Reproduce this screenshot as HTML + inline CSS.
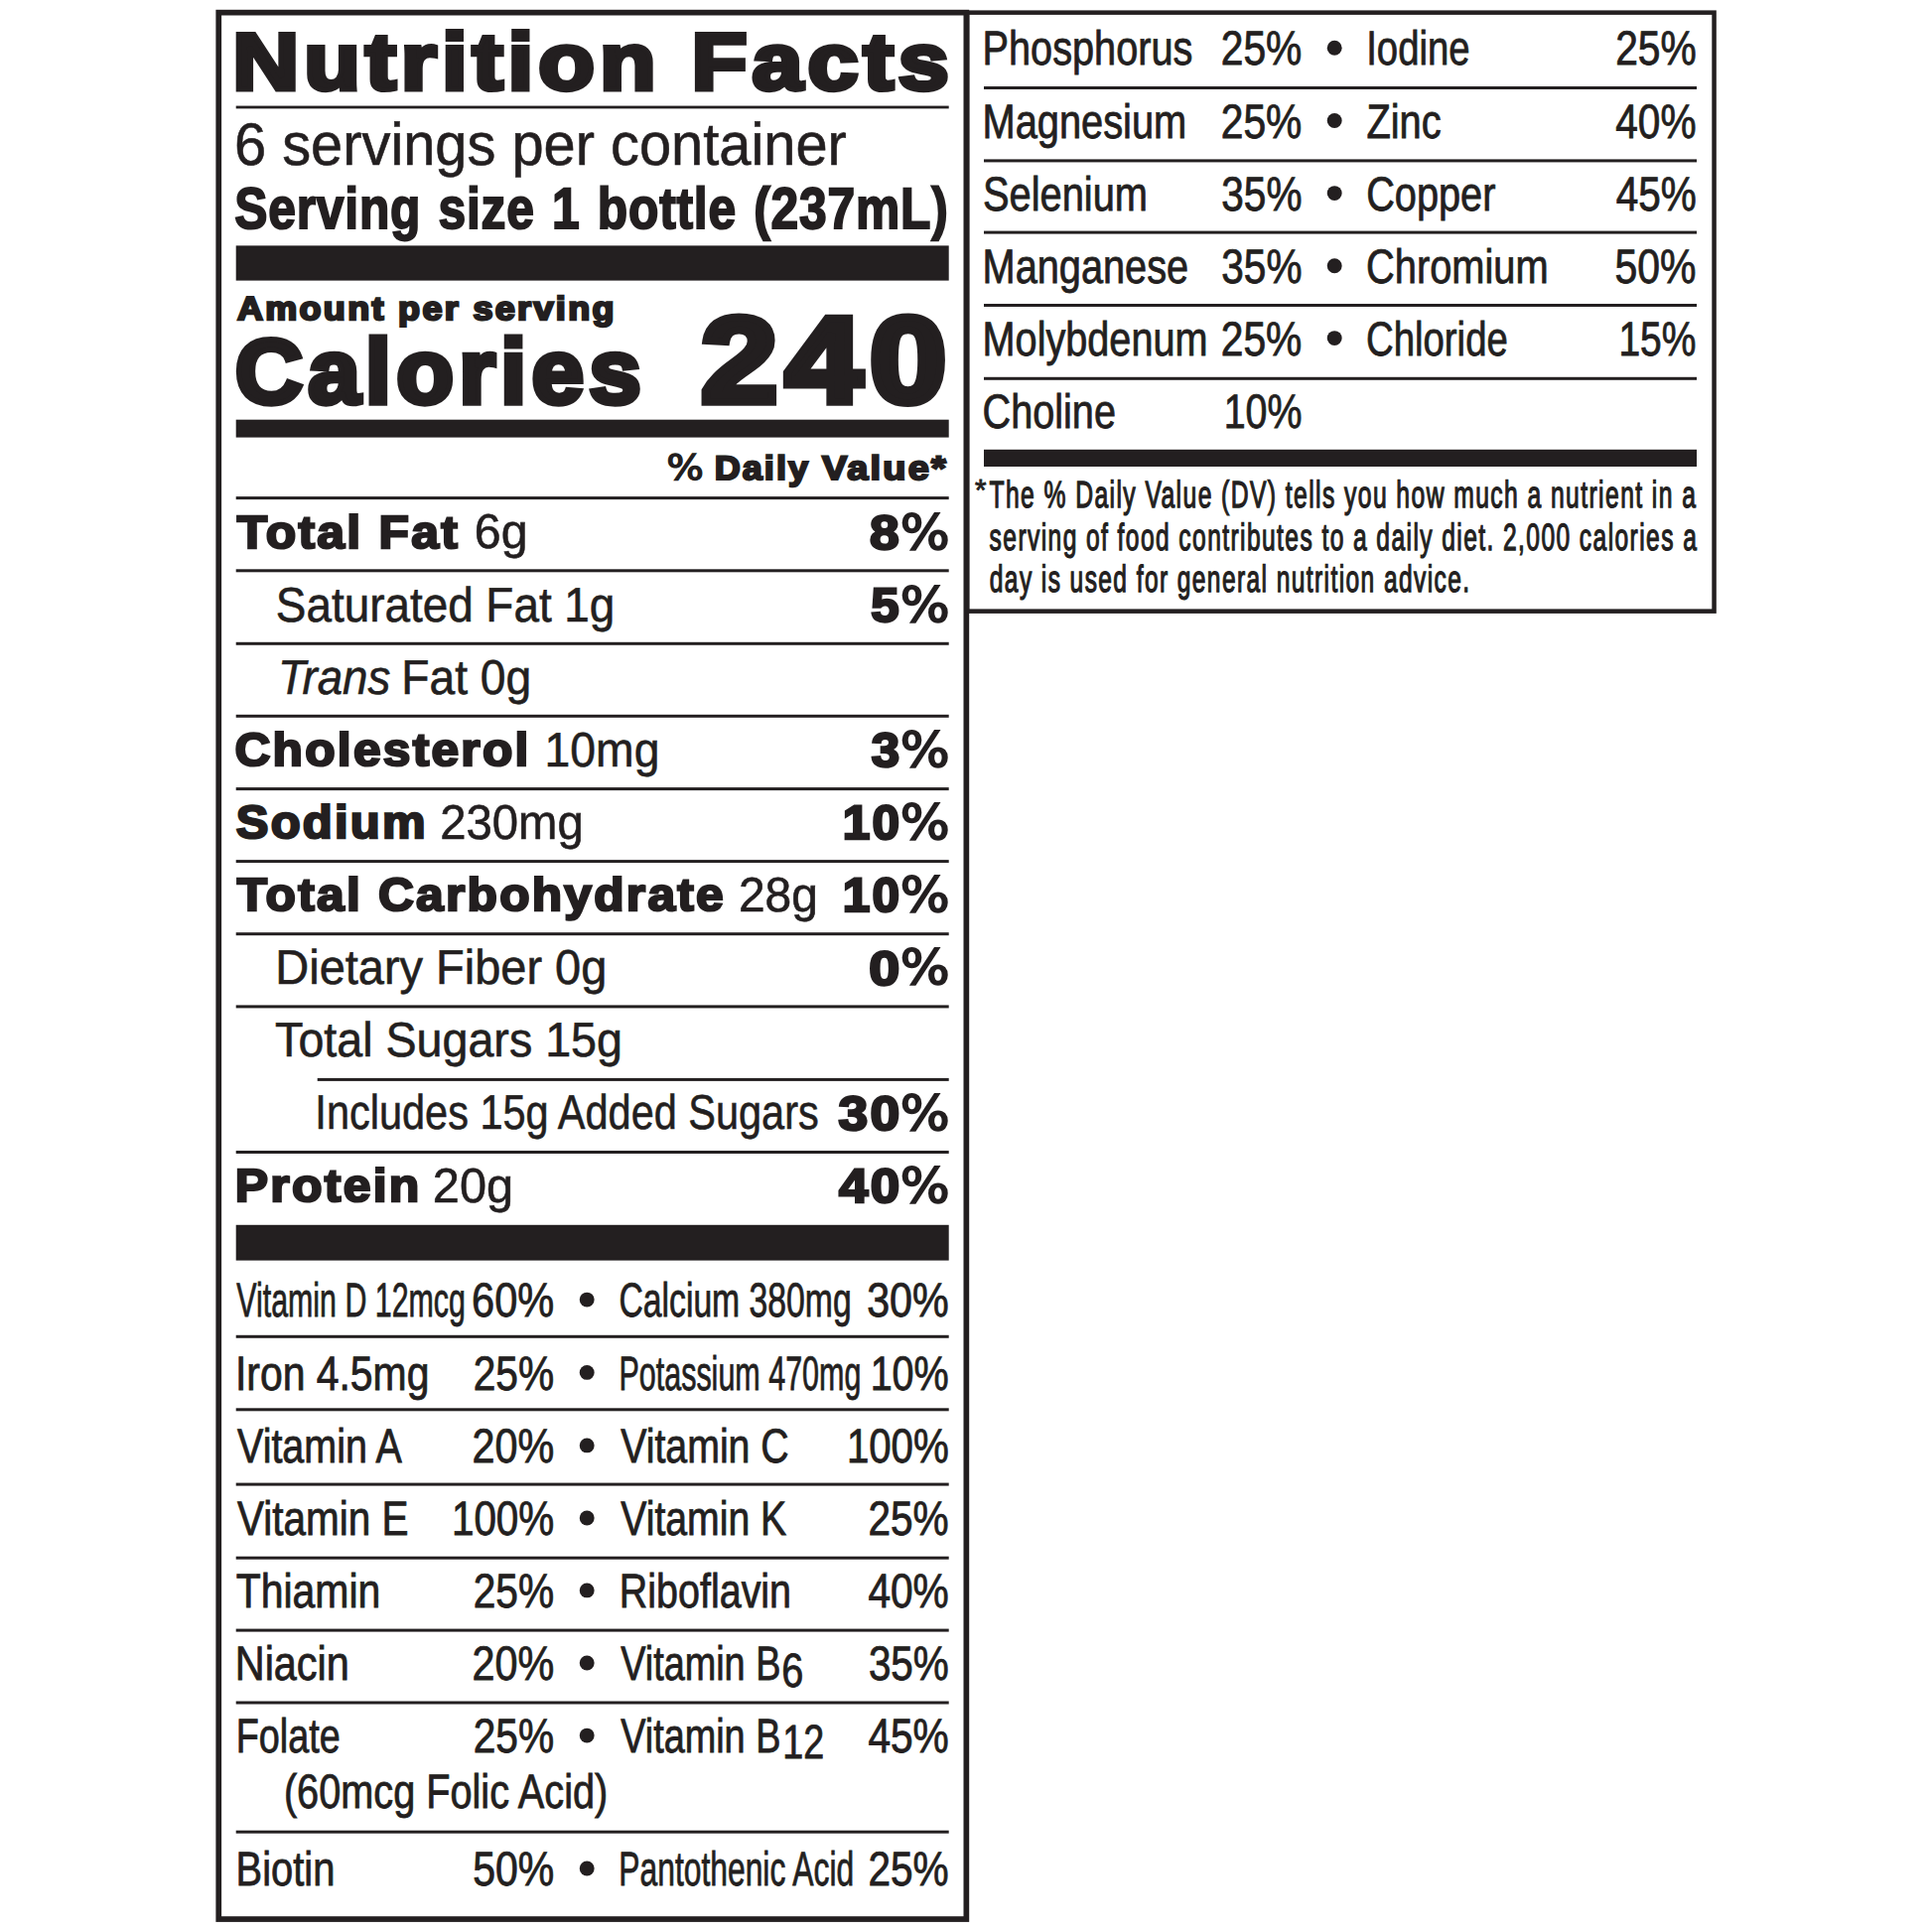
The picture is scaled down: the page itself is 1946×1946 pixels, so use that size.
<!DOCTYPE html>
<html lang="en"><head><meta charset="utf-8"><title>Nutrition Facts</title>
<style>
html,body{margin:0;padding:0;background:#fff;}
#page{position:relative;width:1946px;height:1946px;overflow:hidden;background:#fff;color:#231f20;font-family:"Liberation Sans", sans-serif;}
#page svg{position:absolute;left:0;top:0;}
.panel{display:block;margin:0;padding:0;}
.t{position:absolute;white-space:nowrap;line-height:1;transform-origin:0 0;font-kerning:auto;text-rendering:geometricPrecision;}
.r{font-weight:400;}
.b{font-weight:700;}
.i{font-weight:400;font-style:italic;}
</style></head><body>
<div id="page">
<svg width="1946" height="1946" viewBox="0 0 1946 1946" fill="#231f20">
<rect x="220.25" y="12.65" width="753.10" height="1920.40" fill="none" stroke="#231f20" stroke-width="5.70"/>
<rect x="974.25" y="12.65" width="752.30" height="603.00" fill="none" stroke="#231f20" stroke-width="4.50"/>
<rect x="237.70" y="106.60" width="718.00" height="2.80"/>
<rect x="237.70" y="247.40" width="718.00" height="35.20"/>
<rect x="237.70" y="422.70" width="718.00" height="17.90"/>
<rect x="237.70" y="500.10" width="718.00" height="3.00"/>
<rect x="237.70" y="573.30" width="718.00" height="3.00"/>
<rect x="237.70" y="646.80" width="718.00" height="3.00"/>
<rect x="237.70" y="719.80" width="718.00" height="3.00"/>
<rect x="237.70" y="793.10" width="718.00" height="3.00"/>
<rect x="237.70" y="866.10" width="718.00" height="3.00"/>
<rect x="237.70" y="939.20" width="718.00" height="3.00"/>
<rect x="237.70" y="1012.40" width="718.00" height="3.00"/>
<rect x="319.70" y="1085.90" width="636.00" height="3.00"/>
<rect x="237.70" y="1159.00" width="718.00" height="3.00"/>
<rect x="237.70" y="1233.80" width="718.00" height="35.80"/>
<rect x="237.70" y="1344.80" width="718.00" height="3.00"/>
<rect x="237.70" y="1418.30" width="718.00" height="3.00"/>
<rect x="237.70" y="1493.60" width="718.00" height="3.00"/>
<rect x="237.70" y="1567.70" width="718.00" height="3.00"/>
<rect x="237.70" y="1640.60" width="718.00" height="3.00"/>
<rect x="237.70" y="1713.50" width="718.00" height="3.00"/>
<rect x="237.70" y="1843.70" width="718.00" height="3.00"/>
<circle cx="591.20" cy="1309.10" r="7.45"/>
<circle cx="591.20" cy="1382.40" r="7.45"/>
<circle cx="591.20" cy="1455.90" r="7.45"/>
<circle cx="591.20" cy="1529.00" r="7.45"/>
<circle cx="591.20" cy="1601.90" r="7.45"/>
<circle cx="591.20" cy="1675.00" r="7.45"/>
<circle cx="591.20" cy="1748.10" r="7.45"/>
<circle cx="591.20" cy="1882.00" r="7.45"/>
<rect x="991.00" y="87.00" width="718.00" height="3.00"/>
<rect x="991.00" y="160.40" width="718.00" height="3.00"/>
<rect x="991.00" y="232.60" width="718.00" height="3.00"/>
<rect x="991.00" y="306.00" width="718.00" height="3.00"/>
<rect x="991.00" y="379.80" width="718.00" height="3.00"/>
<rect x="991.00" y="452.80" width="718.00" height="17.20"/>
<circle cx="1344.20" cy="48.20" r="7.45"/>
<circle cx="1344.20" cy="121.50" r="7.45"/>
<circle cx="1344.20" cy="194.60" r="7.45"/>
<circle cx="1344.20" cy="267.70" r="7.45"/>
<circle cx="1344.20" cy="340.60" r="7.45"/>
</svg>
<section class="panel" aria-label="Nutrition Facts">
<span class="t b" style="left:234px;top:22px;font-size:80.77px;transform:translate(0.32px,0.72px) scaleX(1.1486);letter-spacing:4.349px;-webkit-text-stroke:4.83px #231f20;">Nutrition</span>
<span class="t b" style="left:696px;top:22px;font-size:80.77px;transform:translate(0.59px,0.72px) scaleX(1.1354);letter-spacing:4.349px;-webkit-text-stroke:4.83px #231f20;">Facts</span>
<span class="t r" style="left:236px;top:116px;font-size:60.17px;transform:translate(0.00px,0.30px) scaleX(0.9607);-webkit-text-stroke:0.60px #231f20;">6 servings per container</span>
<span class="t b" style="left:236px;top:182px;font-size:58.58px;transform:translate(0.26px,0.22px) scaleX(0.8500);letter-spacing:0.900px;word-spacing:3.182px;-webkit-text-stroke:2.00px #231f20;">Serving size 1 bottle (237mL)</span>
<span class="t b" style="left:238px;top:295px;font-size:33.15px;transform:translate(0.91px,0.48px) scaleX(1.0853);letter-spacing:2.155px;-webkit-text-stroke:2.39px #231f20;">Amount per serving</span>
<span class="t b" style="left:236px;top:329px;font-size:92.00px;transform:translate(0.72px,0.42px) scaleX(1.0285);letter-spacing:4.954px;-webkit-text-stroke:5.50px #231f20;">Calories</span>
<span class="t b" style="left:705px;top:303px;font-size:122.93px;transform:translate(0.98px,0.41px) scaleX(1.1314);letter-spacing:6.811px;-webkit-text-stroke:7.57px #231f20;">240</span>
<span class="t r" style="left:671px;top:453px;font-size:35.19px;transform:translate(0.41px,0.52px) scaleX(1.1140);font-family:'DejaVu Sans','Liberation Sans',sans-serif;-webkit-text-stroke:1.50px #231f20;">%</span>
<span class="t b" style="left:719px;top:455px;font-size:34.05px;transform:translate(0.64px,0.09px) scaleX(1.0579);letter-spacing:1.958px;-webkit-text-stroke:2.18px #231f20;">Daily</span>
<span class="t b" style="left:828px;top:455px;font-size:34.05px;transform:translate(0.01px,0.09px) scaleX(1.1128);letter-spacing:1.958px;-webkit-text-stroke:2.18px #231f20;">Value*</span>
<span class="t b" style="left:238px;top:512px;font-size:46.60px;transform:translate(0.72px,0.52px) scaleX(1.0700);letter-spacing:2.105px;-webkit-text-stroke:2.34px #231f20;">Total Fat</span>
<span class="t r" style="left:477px;top:512px;font-size:48.98px;transform:translate(0.87px,0.18px) scaleX(0.9855);-webkit-text-stroke:0.60px #231f20;">6g</span>
<span class="t b" style="left:875px;top:512px;font-size:48.18px;transform:translate(0.93px,0.51px) scaleX(1.1088);letter-spacing:2.240px;-webkit-text-stroke:2.49px #231f20;">8</span>
<span class="t r" style="left:906px;top:513px;font-size:48.68px;transform:translate(0.76px,0.24px) scaleX(1.0782);font-family:'DejaVu Sans','Liberation Sans',sans-serif;-webkit-text-stroke:1.90px #231f20;">%</span>
<span class="t r" style="left:277px;top:586px;font-size:48.98px;transform:translate(0.81px,0.38px) scaleX(0.9363);-webkit-text-stroke:0.60px #231f20;">Saturated Fat 1g</span>
<span class="t b" style="left:877px;top:586px;font-size:48.18px;transform:translate(0.25px,0.11px) scaleX(1.0581);letter-spacing:2.240px;-webkit-text-stroke:2.49px #231f20;">5</span>
<span class="t r" style="left:906px;top:585px;font-size:48.68px;transform:translate(0.76px,0.84px) scaleX(1.0782);font-family:'DejaVu Sans','Liberation Sans',sans-serif;-webkit-text-stroke:1.90px #231f20;">%</span>
<span class="t i" style="left:279px;top:658px;font-size:48.98px;transform:translate(0.96px,0.78px) scaleX(0.9328);-webkit-text-stroke:0.60px #231f20;">Trans</span>
<span class="t r" style="left:404px;top:658px;font-size:48.98px;transform:translate(0.25px,0.78px) scaleX(0.9436);-webkit-text-stroke:0.60px #231f20;">Fat 0g</span>
<span class="t b" style="left:236px;top:732px;font-size:46.60px;transform:translate(0.47px,0.32px) scaleX(1.0669);letter-spacing:2.105px;-webkit-text-stroke:2.34px #231f20;">Cholesterol</span>
<span class="t r" style="left:548px;top:731px;font-size:48.98px;transform:translate(0.60px,0.58px) scaleX(0.9457);-webkit-text-stroke:0.60px #231f20;">10mg</span>
<span class="t b" style="left:877px;top:732px;font-size:48.18px;transform:translate(0.72px,0.31px) scaleX(1.0601);letter-spacing:2.240px;-webkit-text-stroke:2.49px #231f20;">3</span>
<span class="t r" style="left:906px;top:732px;font-size:48.68px;transform:translate(0.76px,0.04px) scaleX(1.0782);font-family:'DejaVu Sans','Liberation Sans',sans-serif;-webkit-text-stroke:1.90px #231f20;">%</span>
<span class="t b" style="left:237px;top:804px;font-size:46.60px;transform:translate(0.77px,0.92px) scaleX(1.0513);letter-spacing:2.105px;-webkit-text-stroke:2.34px #231f20;">Sodium</span>
<span class="t r" style="left:443px;top:804px;font-size:48.98px;transform:translate(0.26px,0.98px) scaleX(0.9652);-webkit-text-stroke:0.60px #231f20;">230mg</span>
<span class="t b" style="left:848px;top:804px;font-size:48.18px;transform:translate(0.66px,0.91px) scaleX(1.0284);letter-spacing:2.240px;-webkit-text-stroke:2.49px #231f20;">10</span>
<span class="t r" style="left:906px;top:804px;font-size:48.68px;transform:translate(0.76px,0.64px) scaleX(1.0782);font-family:'DejaVu Sans','Liberation Sans',sans-serif;-webkit-text-stroke:1.90px #231f20;">%</span>
<span class="t b" style="left:238px;top:878px;font-size:46.60px;transform:translate(0.71px,0.12px) scaleX(1.0664);letter-spacing:2.105px;-webkit-text-stroke:2.34px #231f20;">Total Carbohydrate</span>
<span class="t r" style="left:743px;top:878px;font-size:48.98px;transform:translate(0.91px,0.38px) scaleX(0.9799);-webkit-text-stroke:0.60px #231f20;">28g</span>
<span class="t b" style="left:848px;top:878px;font-size:48.18px;transform:translate(0.66px,0.11px) scaleX(1.0284);letter-spacing:2.240px;-webkit-text-stroke:2.49px #231f20;">10</span>
<span class="t r" style="left:906px;top:877px;font-size:48.68px;transform:translate(0.76px,0.84px) scaleX(1.0782);font-family:'DejaVu Sans','Liberation Sans',sans-serif;-webkit-text-stroke:1.90px #231f20;">%</span>
<span class="t r" style="left:277px;top:950px;font-size:48.98px;transform:translate(0.34px,0.58px) scaleX(0.9586);-webkit-text-stroke:0.60px #231f20;">Dietary Fiber 0g</span>
<span class="t b" style="left:875px;top:952px;font-size:48.18px;transform:translate(0.17px,0.31px) scaleX(1.1574);letter-spacing:2.240px;-webkit-text-stroke:2.49px #231f20;">0</span>
<span class="t r" style="left:906px;top:951px;font-size:48.68px;transform:translate(0.76px,0.04px) scaleX(1.0782);font-family:'DejaVu Sans','Liberation Sans',sans-serif;-webkit-text-stroke:1.90px #231f20;">%</span>
<span class="t r" style="left:277px;top:1024px;font-size:48.98px;transform:translate(0.08px,0.18px) scaleX(0.9519);-webkit-text-stroke:0.60px #231f20;">Total Sugars 15g</span>
<span class="t r" style="left:317px;top:1097px;font-size:48.98px;transform:translate(0.37px,0.38px) scaleX(0.8471);-webkit-text-stroke:0.60px #231f20;">Includes 15g Added Sugars</span>
<span class="t b" style="left:844px;top:1098px;font-size:48.18px;transform:translate(0.40px,0.11px) scaleX(1.1097);letter-spacing:2.240px;-webkit-text-stroke:2.49px #231f20;">30</span>
<span class="t r" style="left:906px;top:1097px;font-size:48.68px;transform:translate(0.76px,0.84px) scaleX(1.0782);font-family:'DejaVu Sans','Liberation Sans',sans-serif;-webkit-text-stroke:1.90px #231f20;">%</span>
<span class="t b" style="left:236px;top:1170px;font-size:46.60px;transform:translate(0.77px,0.52px) scaleX(1.0718);letter-spacing:2.105px;-webkit-text-stroke:2.34px #231f20;">Protein</span>
<span class="t r" style="left:435px;top:1170px;font-size:48.98px;transform:translate(0.86px,0.78px) scaleX(0.9942);-webkit-text-stroke:0.60px #231f20;">20g</span>
<span class="t b" style="left:844px;top:1170px;font-size:48.18px;transform:translate(0.97px,0.51px) scaleX(1.0983);letter-spacing:2.240px;-webkit-text-stroke:2.49px #231f20;">40</span>
<span class="t r" style="left:906px;top:1171px;font-size:48.68px;transform:translate(0.76px,0.24px) scaleX(1.0782);font-family:'DejaVu Sans','Liberation Sans',sans-serif;-webkit-text-stroke:1.90px #231f20;">%</span>
<span class="t r" style="left:238px;top:1286px;font-size:48.47px;transform:translate(0.33px,0.44px) scaleX(0.6262);-webkit-text-stroke:0.85px #231f20;">Vitamin D 12mcg</span>
<span class="t r" style="left:475px;top:1286px;font-size:48.47px;transform:translate(0.07px,0.44px) scaleX(0.8568);-webkit-text-stroke:0.85px #231f20;">60%</span>
<span class="t r" style="left:236px;top:1360px;font-size:48.47px;transform:translate(0.90px,0.04px) scaleX(0.8439);-webkit-text-stroke:0.85px #231f20;">Iron 4.5mg</span>
<span class="t r" style="left:476px;top:1360px;font-size:48.47px;transform:translate(0.75px,0.04px) scaleX(0.8393);-webkit-text-stroke:0.85px #231f20;">25%</span>
<span class="t r" style="left:239px;top:1433px;font-size:48.47px;transform:translate(0.04px,0.04px) scaleX(0.8137);-webkit-text-stroke:0.85px #231f20;">Vitamin A</span>
<span class="t r" style="left:475px;top:1433px;font-size:48.47px;transform:translate(0.59px,0.04px) scaleX(0.8521);-webkit-text-stroke:0.85px #231f20;">20%</span>
<span class="t r" style="left:239px;top:1506px;font-size:48.47px;transform:translate(0.06px,0.24px) scaleX(0.8349);-webkit-text-stroke:0.85px #231f20;">Vitamin E</span>
<span class="t r" style="left:454px;top:1506px;font-size:48.47px;transform:translate(0.93px,0.24px) scaleX(0.8335);-webkit-text-stroke:0.85px #231f20;">100%</span>
<span class="t r" style="left:237px;top:1579px;font-size:48.47px;transform:translate(0.68px,0.04px) scaleX(0.8452);-webkit-text-stroke:0.85px #231f20;">Thiamin</span>
<span class="t r" style="left:476px;top:1579px;font-size:48.47px;transform:translate(0.75px,0.04px) scaleX(0.8393);-webkit-text-stroke:0.85px #231f20;">25%</span>
<span class="t r" style="left:236px;top:1652px;font-size:48.47px;transform:translate(0.74px,0.24px) scaleX(0.8541);-webkit-text-stroke:0.85px #231f20;">Niacin</span>
<span class="t r" style="left:475px;top:1652px;font-size:48.47px;transform:translate(0.59px,0.24px) scaleX(0.8521);-webkit-text-stroke:0.85px #231f20;">20%</span>
<span class="t r" style="left:237px;top:1725px;font-size:48.47px;transform:translate(0.73px,0.44px) scaleX(0.7795);-webkit-text-stroke:0.85px #231f20;">Folate</span>
<span class="t r" style="left:476px;top:1725px;font-size:48.47px;transform:translate(0.75px,0.44px) scaleX(0.8393);-webkit-text-stroke:0.85px #231f20;">25%</span>
<span class="t r" style="left:285px;top:1781px;font-size:48.47px;transform:translate(0.91px,0.04px) scaleX(0.8186);-webkit-text-stroke:0.85px #231f20;">(60mcg Folic Acid)</span>
<span class="t r" style="left:237px;top:1859px;font-size:48.47px;transform:translate(0.57px,0.24px) scaleX(0.8228);-webkit-text-stroke:0.85px #231f20;">Biotin</span>
<span class="t r" style="left:476px;top:1859px;font-size:48.47px;transform:translate(0.17px,0.24px) scaleX(0.8456);-webkit-text-stroke:0.85px #231f20;">50%</span>
<span class="t r" style="left:623px;top:1286px;font-size:48.47px;transform:translate(0.45px,0.44px) scaleX(0.6955);-webkit-text-stroke:0.85px #231f20;">Calcium 380mg</span>
<span class="t r" style="left:873px;top:1286px;font-size:48.47px;transform:translate(0.18px,0.44px) scaleX(0.8509);-webkit-text-stroke:0.85px #231f20;">30%</span>
<span class="t r" style="left:623px;top:1360px;font-size:48.47px;transform:translate(0.48px,0.04px) scaleX(0.6286);-webkit-text-stroke:0.85px #231f20;">Potassium 470mg</span>
<span class="t r" style="left:876px;top:1360px;font-size:48.47px;transform:translate(0.64px,0.04px) scaleX(0.8155);-webkit-text-stroke:0.85px #231f20;">10%</span>
<span class="t r" style="left:625px;top:1433px;font-size:48.47px;transform:translate(0.24px,0.04px) scaleX(0.8101);-webkit-text-stroke:0.85px #231f20;">Vitamin C</span>
<span class="t r" style="left:852px;top:1433px;font-size:48.47px;transform:translate(0.88px,0.04px) scaleX(0.8299);-webkit-text-stroke:0.85px #231f20;">100%</span>
<span class="t r" style="left:625px;top:1506px;font-size:48.47px;transform:translate(0.24px,0.24px) scaleX(0.8085);-webkit-text-stroke:0.85px #231f20;">Vitamin K</span>
<span class="t r" style="left:874px;top:1506px;font-size:48.47px;transform:translate(0.47px,0.24px) scaleX(0.8365);-webkit-text-stroke:0.85px #231f20;">25%</span>
<span class="t r" style="left:623px;top:1579px;font-size:48.47px;transform:translate(0.84px,0.04px) scaleX(0.8139);-webkit-text-stroke:0.85px #231f20;">Riboflavin</span>
<span class="t r" style="left:874px;top:1579px;font-size:48.47px;transform:translate(0.41px,0.04px) scaleX(0.8385);-webkit-text-stroke:0.85px #231f20;">40%</span>
<span class="t r" style="left:625px;top:1652px;font-size:48.47px;transform:translate(0.23px,0.24px) scaleX(0.7802);-webkit-text-stroke:0.85px #231f20;">Vitamin B</span>
<span class="t r" style="left:787px;top:1659px;font-size:48.18px;transform:translate(0.14px,0.09px) scaleX(0.8232);-webkit-text-stroke:0.85px #231f20;">6</span>
<span class="t r" style="left:874px;top:1652px;font-size:48.47px;transform:translate(0.88px,0.24px) scaleX(0.8340);-webkit-text-stroke:0.85px #231f20;">35%</span>
<span class="t r" style="left:625px;top:1725px;font-size:48.47px;transform:translate(0.23px,0.44px) scaleX(0.7802);-webkit-text-stroke:0.85px #231f20;">Vitamin B</span>
<span class="t r" style="left:788px;top:1731px;font-size:48.18px;transform:translate(0.19px,0.49px) scaleX(0.7823);-webkit-text-stroke:0.85px #231f20;">12</span>
<span class="t r" style="left:874px;top:1725px;font-size:48.47px;transform:translate(0.41px,0.44px) scaleX(0.8385);-webkit-text-stroke:0.85px #231f20;">45%</span>
<span class="t r" style="left:623px;top:1859px;font-size:48.47px;transform:translate(0.37px,0.24px) scaleX(0.6559);-webkit-text-stroke:0.85px #231f20;">Pantothenic Acid</span>
<span class="t r" style="left:874px;top:1859px;font-size:48.47px;transform:translate(0.47px,0.24px) scaleX(0.8365);-webkit-text-stroke:0.85px #231f20;">25%</span>
</section>
<section class="panel" aria-label="Additional nutrients and footnote">
<span class="t r" style="left:989px;top:24px;font-size:48.47px;transform:translate(0.57px,0.64px) scaleX(0.8187);-webkit-text-stroke:0.85px #231f20;">Phosphorus</span>
<span class="t r" style="left:1229px;top:24px;font-size:48.47px;transform:translate(0.81px,0.64px) scaleX(0.8404);-webkit-text-stroke:0.85px #231f20;">25%</span>
<span class="t r" style="left:1376px;top:24px;font-size:48.47px;transform:translate(0.22px,0.64px) scaleX(0.7902);-webkit-text-stroke:0.85px #231f20;">Iodine</span>
<span class="t r" style="left:1627px;top:24px;font-size:48.47px;transform:translate(0.24px,0.64px) scaleX(0.8397);-webkit-text-stroke:0.85px #231f20;">25%</span>
<span class="t r" style="left:989px;top:99px;font-size:48.47px;transform:translate(0.53px,0.24px) scaleX(0.8209);-webkit-text-stroke:0.85px #231f20;">Magnesium</span>
<span class="t r" style="left:1229px;top:99px;font-size:48.47px;transform:translate(0.81px,0.24px) scaleX(0.8404);-webkit-text-stroke:0.85px #231f20;">25%</span>
<span class="t r" style="left:1376px;top:99px;font-size:48.47px;transform:translate(0.41px,0.24px) scaleX(0.8212);-webkit-text-stroke:0.85px #231f20;">Zinc</span>
<span class="t r" style="left:1627px;top:99px;font-size:48.47px;transform:translate(0.25px,0.24px) scaleX(0.8371);-webkit-text-stroke:0.85px #231f20;">40%</span>
<span class="t r" style="left:990px;top:172px;font-size:48.47px;transform:translate(0.01px,0.44px) scaleX(0.8212);-webkit-text-stroke:0.85px #231f20;">Selenium</span>
<span class="t r" style="left:1230px;top:172px;font-size:48.47px;transform:translate(0.33px,0.44px) scaleX(0.8357);-webkit-text-stroke:0.85px #231f20;">35%</span>
<span class="t r" style="left:1376px;top:172px;font-size:48.47px;transform:translate(0.13px,0.44px) scaleX(0.8198);-webkit-text-stroke:0.85px #231f20;">Copper</span>
<span class="t r" style="left:1627px;top:172px;font-size:48.47px;transform:translate(0.75px,0.44px) scaleX(0.8346);-webkit-text-stroke:0.85px #231f20;">45%</span>
<span class="t r" style="left:989px;top:244px;font-size:48.47px;transform:translate(0.56px,0.64px) scaleX(0.8193);-webkit-text-stroke:0.85px #231f20;">Manganese</span>
<span class="t r" style="left:1230px;top:244px;font-size:48.47px;transform:translate(0.33px,0.64px) scaleX(0.8357);-webkit-text-stroke:0.85px #231f20;">35%</span>
<span class="t r" style="left:1376px;top:244px;font-size:48.47px;transform:translate(0.12px,0.64px) scaleX(0.8209);-webkit-text-stroke:0.85px #231f20;">Chromium</span>
<span class="t r" style="left:1626px;top:244px;font-size:48.47px;transform:translate(0.51px,0.64px) scaleX(0.8444);-webkit-text-stroke:0.85px #231f20;">50%</span>
<span class="t r" style="left:989px;top:318px;font-size:48.47px;transform:translate(0.59px,0.44px) scaleX(0.8176);-webkit-text-stroke:0.85px #231f20;">Molybdenum</span>
<span class="t r" style="left:1229px;top:318px;font-size:48.47px;transform:translate(0.81px,0.44px) scaleX(0.8404);-webkit-text-stroke:0.85px #231f20;">25%</span>
<span class="t r" style="left:1375px;top:318px;font-size:48.47px;transform:translate(0.93px,0.44px) scaleX(0.7915);-webkit-text-stroke:0.85px #231f20;">Chloride</span>
<span class="t r" style="left:1630px;top:318px;font-size:48.47px;transform:translate(0.38px,0.44px) scaleX(0.8035);-webkit-text-stroke:0.85px #231f20;">15%</span>
<span class="t r" style="left:989px;top:391px;font-size:48.47px;transform:translate(0.62px,0.24px) scaleX(0.8170);-webkit-text-stroke:0.85px #231f20;">Choline</span>
<span class="t r" style="left:1232px;top:391px;font-size:48.47px;transform:translate(0.71px,0.24px) scaleX(0.8114);-webkit-text-stroke:0.85px #231f20;">10%</span>
<span class="t r" style="left:981px;top:479px;font-size:30.48px;transform:translate(0.99px,0.32px) scaleX(0.9694);-webkit-text-stroke:0.90px #231f20;">*</span>
<span class="t r" style="left:996px;top:480px;font-size:37.94px;transform:translate(0.48px,0.89px) scaleX(0.6502);letter-spacing:2.200px;-webkit-text-stroke:1.30px #231f20;">The % Daily Value (DV) tells you how much a nutrient in a</span>
<span class="t r" style="left:996px;top:524px;font-size:37.94px;transform:translate(0.60px,0.49px) scaleX(0.6477);letter-spacing:2.200px;-webkit-text-stroke:1.30px #231f20;">serving of food contributes to a daily diet. 2,000 calories a</span>
<span class="t r" style="left:996px;top:565px;font-size:37.94px;transform:translate(0.82px,0.89px) scaleX(0.6462);letter-spacing:2.200px;-webkit-text-stroke:1.30px #231f20;">day is used for general nutrition advice.</span>
</section>
</div>
</body></html>
